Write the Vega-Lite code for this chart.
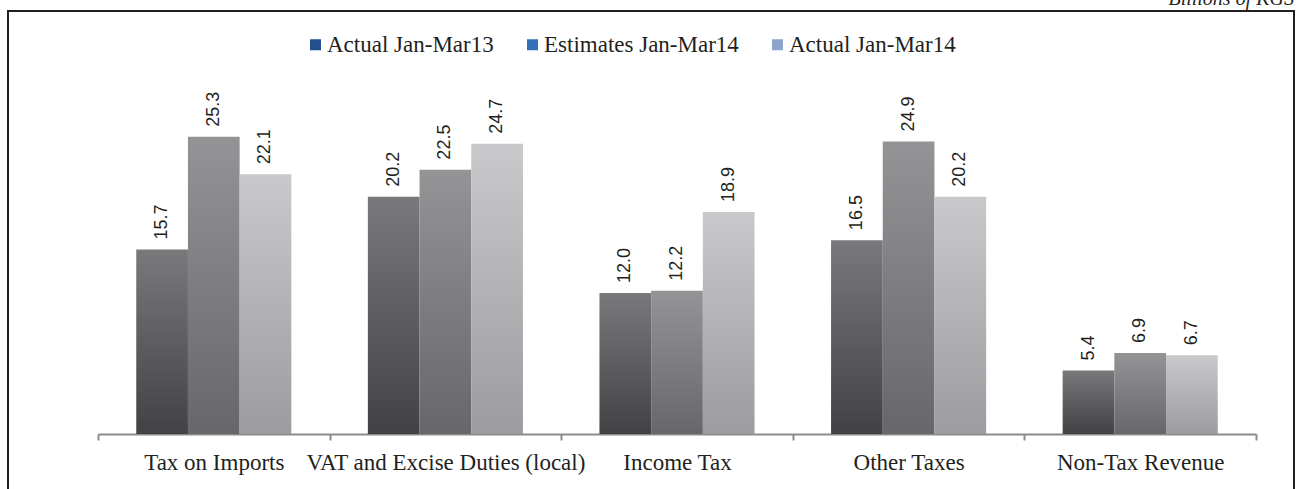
{
  "$schema": "https://vega.github.io/schema/vega-lite/v6.json",
  "width": 1286,
  "height": 482,
  "autosize": {"type": "none"},
  "padding": {"left": 8, "top": 11, "right": 8, "bottom": 0},
  "background": "white",
  "title": {
    "text": "Billions of KGS",
    "anchor": "end",
    "orient": "top",
    "offset": 2,
    "font": "Liberation Serif, Times New Roman, serif",
    "fontStyle": "italic",
    "fontWeight": "normal",
    "fontSize": 20,
    "color": "#231f20"
  },
  "config": {
    "font": "Liberation Serif, Times New Roman, serif",
    "view": {"stroke": "#231f20", "strokeWidth": 2}
  },
  "data": {
    "values": [
      {"category": "Tax on Imports", "series": "Actual Jan-Mar13", "value": 15.7},
      {"category": "Tax on Imports", "series": "Estimates Jan-Mar14", "value": 25.3},
      {"category": "Tax on Imports", "series": "Actual Jan-Mar14", "value": 22.1},
      {"category": "VAT and Excise Duties (local)", "series": "Actual Jan-Mar13", "value": 20.2},
      {"category": "VAT and Excise Duties (local)", "series": "Estimates Jan-Mar14", "value": 22.5},
      {"category": "VAT and Excise Duties (local)", "series": "Actual Jan-Mar14", "value": 24.7},
      {"category": "Income Tax", "series": "Actual Jan-Mar13", "value": 12.0},
      {"category": "Income Tax", "series": "Estimates Jan-Mar14", "value": 12.2},
      {"category": "Income Tax", "series": "Actual Jan-Mar14", "value": 18.9},
      {"category": "Other Taxes", "series": "Actual Jan-Mar13", "value": 16.5},
      {"category": "Other Taxes", "series": "Estimates Jan-Mar14", "value": 24.9},
      {"category": "Other Taxes", "series": "Actual Jan-Mar14", "value": 20.2},
      {"category": "Non-Tax Revenue", "series": "Actual Jan-Mar13", "value": 5.4},
      {"category": "Non-Tax Revenue", "series": "Estimates Jan-Mar14", "value": 6.9},
      {"category": "Non-Tax Revenue", "series": "Actual Jan-Mar14", "value": 6.7}
    ]
  },
  "encoding": {
    "x": {
      "field": "category",
      "type": "nominal",
      "sort": ["Tax on Imports", "VAT and Excise Duties (local)", "Income Tax", "Other Taxes", "Non-Tax Revenue"],
      "scale": {"range": [90, 1248], "paddingInner": 0, "paddingOuter": 0},
      "axis": {
        "title": null,
        "orient": "bottom",
        "offset": -59,
        "tickBand": "extent",
        "domainColor": "#8c8c8c",
        "domainWidth": 2,
        "tickColor": "#8c8c8c",
        "tickWidth": 2,
        "tickSize": 6,
        "labelAngle": 0,
        "labelFont": "Liberation Serif, Times New Roman, serif",
        "labelFontSize": 23,
        "labelColor": "#231f20",
        "labelBaseline": "top",
        "labelPadding": 11,
        "labelOverlap": false,
        "labelLimit": 0,
        "grid": false
      }
    },
    "xOffset": {
      "field": "series",
      "type": "nominal",
      "sort": ["Actual Jan-Mar13", "Estimates Jan-Mar14", "Actual Jan-Mar14"],
      "scale": {"paddingInner": 0, "paddingOuter": 0.74}
    },
    "y": {
      "field": "value",
      "type": "quantitative",
      "scale": {"domain": [0, 30], "range": [423, 70.5], "nice": false},
      "axis": null
    }
  },
  "layer": [
    {
      "mark": {"type": "bar"},
      "encoding": {
        "y": {"datum": 0},
        "color": {
          "field": "series",
          "type": "nominal",
          "sort": ["Actual Jan-Mar13", "Estimates Jan-Mar14", "Actual Jan-Mar14"],
          "scale": {"range": ["#22508c", "#3270b8", "#8fa4c9"]},
          "legend": {
            "title": null,
            "orient": "none",
            "legendX": 296,
            "legendY": 22,
            "direction": "horizontal",
            "symbolType": "square",
            "symbolSize": 121,
            "symbolStrokeWidth": 0,
            "labelFont": "Liberation Serif, Times New Roman, serif",
            "labelFontSize": 23,
            "labelColor": "#231f20",
            "labelOffset": 0,
            "columnPadding": 27,
            "labelLimit": 0
          }
        }
      }
    },
    {
      "transform": [{"filter": "datum.series === 'Actual Jan-Mar13'"}],
      "mark": {
        "type": "bar",
        "fill": {
          "gradient": "linear", "x1": 0, "y1": 1, "x2": 0, "y2": 0,
          "stops": [{"offset": 0, "color": "#424244"}, {"offset": 1, "color": "#79797b"}]
        }
      }
    },
    {
      "transform": [{"filter": "datum.series === 'Estimates Jan-Mar14'"}],
      "mark": {
        "type": "bar",
        "fill": {
          "gradient": "linear", "x1": 0, "y1": 1, "x2": 0, "y2": 0,
          "stops": [{"offset": 0, "color": "#67676b"}, {"offset": 1, "color": "#949497"}]
        }
      }
    },
    {
      "transform": [{"filter": "datum.series === 'Actual Jan-Mar14'"}],
      "mark": {
        "type": "bar",
        "fill": {
          "gradient": "linear", "x1": 0, "y1": 1, "x2": 0, "y2": 0,
          "stops": [{"offset": 0, "color": "#9c9ca0"}, {"offset": 1, "color": "#c9c9cb"}]
        }
      }
    },
    {
      "mark": {
        "type": "text",
        "angle": 270,
        "align": "left",
        "baseline": "middle",
        "dx": 10,
        "font": "Liberation Sans, Arial, sans-serif",
        "fontSize": 18,
        "color": "#231f20"
      },
      "encoding": {
        "text": {"field": "value", "type": "quantitative", "format": ".1f"}
      }
    }
  ]
}
